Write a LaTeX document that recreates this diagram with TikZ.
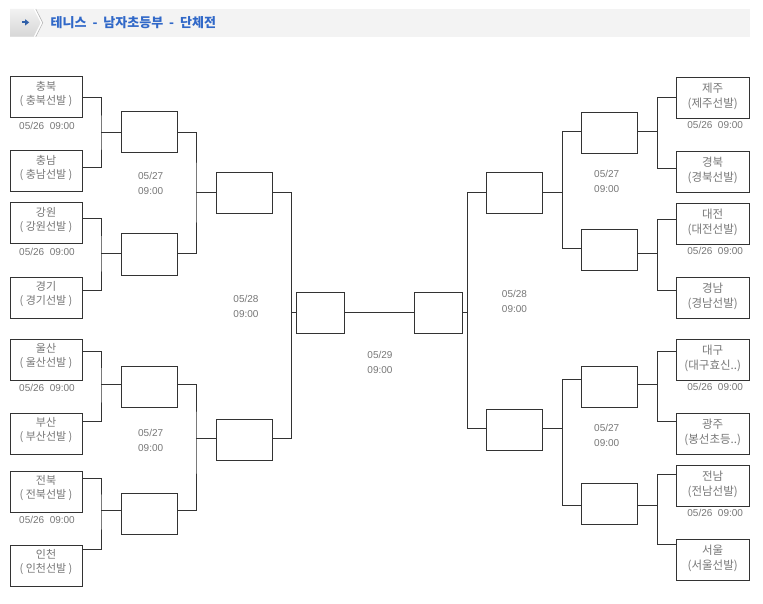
\documentclass[tikz,border=0pt]{standalone}
\usepackage{fontspec}
\usetikzlibrary{calc}
\newfontfamily\kr{Noto Sans CJK KR}
\newfontfamily\dt{Liberation Sans}
\definecolor{ln}{HTML}{333333}
\definecolor{txt}{HTML}{777777}
\definecolor{ttl}{HTML}{3068C8}
\definecolor{band}{HTML}{F3F3F3}
\definecolor{tabtop}{HTML}{F2F2F2}
\definecolor{tabbot}{HTML}{D6D6D6}
\definecolor{icon}{HTML}{2F5FA8}
\tikzset{
  box/.style={draw=ln, line width=1pt, fill=white, inner sep=0pt, minimum height=41pt},
  team/.style={box, minimum width=72pt},
  rteam/.style={box, minimum width=73pt},
  mbox/.style={box, minimum width=56pt},
  fbox/.style={box, minimum width=48pt},
  conn/.style={draw=ln, line width=1pt},
  tname/.style={font=\kr\fontsize{11}{13.5}\selectfont, text=txt, align=center, inner sep=0pt},
  rname/.style={font=\kr\fontsize{11.5}{15}\selectfont, text=txt, align=center, inner sep=0pt},
  dtext/.style={font=\dt\fontsize{10}{12}\selectfont, text=txt, inner sep=0pt},
  rtext/.style={font=\dt\fontsize{10}{15.5}\selectfont, text=txt, align=center, inner sep=0pt}
}
\begin{document}
\begin{tikzpicture}[x=1pt, y=-1pt]
\useasboundingbox (0,0) rectangle (763,604);
\fill[white] (0,0) rectangle (763,604);
% header
\fill[band] (10,9) rectangle (750,36.7);
\shade[top color=tabtop, bottom color=tabbot] (10,9) -- (34,9) -- (41,22.8) -- (34,36.7) -- (10,36.7) -- cycle;
\draw[white, line width=1.2pt] (34.5,9) -- (41.5,22.8) -- (34.5,36.7);
\draw[gray!60, line width=0.5pt] (35.8,9) -- (42.8,22.8) -- (35.8,36.7);
\fill[icon] (21.7,21.4) rectangle (25.5,23.4);
\fill[icon] (25.2,19.3) -- (29.2,22.4) -- (25.2,25.5) -- cycle;
\node[anchor=west, inner sep=0pt, text=ttl, font=\kr\bfseries\fontsize{13}{15}\selectfont] (title) at (50.5,22.7) {테니스\ \ -\ \ 남자초등부\ \ -\ \ 단체전};

% left teams
\node[team] (L1) at (46,97.5) {};
\node[team] (L2) at (46,171.5) {};
\node[team] (L3) at (46,223.5) {};
\node[team] (L4) at (46,297.5) {};
\node[team] (L5) at (46,359.5) {};
\node[team] (L6) at (46,433.5) {};
\node[team] (L7) at (46,491.5) {};
\node[team] (L8) at (46,565.5) {};
\node[tname] (L1t) at ($(L1.center)+(0,-3.5)$) {충북\\( 충북선발 )};
\node[tname] (L2t) at ($(L2.center)+(0,-3.5)$) {충남\\( 충남선발 )};
\node[tname] (L3t) at ($(L3.center)+(0,-3.5)$) {강원\\( 강원선발 )};
\node[tname] (L4t) at ($(L4.center)+(0,-3.5)$) {경기\\( 경기선발 )};
\node[tname] (L5t) at ($(L5.center)+(0,-3.5)$) {울산\\( 울산선발 )};
\node[tname] (L6t) at ($(L6.center)+(0,-3.5)$) {부산\\( 부산선발 )};
\node[tname] (L7t) at ($(L7.center)+(0,-3.5)$) {전북\\( 전북선발 )};
\node[tname] (L8t) at ($(L8.center)+(0,-3.5)$) {인천\\( 인천선발 )};
\node[dtext] (L1d) at ($(L1.south)+(1,7)$) {05/26~~09:00};
\node[dtext] (L3d) at ($(L3.south)+(1,7)$) {05/26~~09:00};
\node[dtext] (L5d) at ($(L5.south)+(1,7)$) {05/26~~09:00};
\node[dtext] (L7d) at ($(L7.south)+(1,7)$) {05/26~~09:00};

% right teams
\node[rteam] (T1) at (712.7,97.8) {};
\node[rteam] (T2) at (712.7,171.8) {};
\node[rteam] (T3) at (712.7,223.8) {};
\node[rteam] (T4) at (712.7,297.8) {};
\node[rteam] (T5) at (712.7,359.8) {};
\node[rteam] (T6) at (712.7,433.8) {};
\node[rteam] (T7) at (712.7,485.8) {};
\node[rteam] (T8) at (712.7,559.8) {};
\node[rname] (T1t) at ($(T1.center)+(0,-1)$) {제주\\(제주선발)};
\node[rname] (T2t) at ($(T2.center)+(0,-1)$) {경북\\(경북선발)};
\node[rname] (T3t) at ($(T3.center)+(0,-1)$) {대전\\(대전선발)};
\node[rname] (T4t) at ($(T4.center)+(0,-1)$) {경남\\(경남선발)};
\node[rname] (T5t) at ($(T5.center)+(0,-1)$) {대구\\(대구효신..)};
\node[rname] (T6t) at ($(T6.center)+(0,-1)$) {광주\\(봉선초등..)};
\node[rname] (T7t) at ($(T7.center)+(0,-1)$) {전남\\(전남선발)};
\node[rname] (T8t) at ($(T8.center)+(0,-1)$) {서울\\(서울선발)};
\node[dtext] (T1d) at ($(T1.south)+(2.5,6.5)$) {05/26~~09:00};
\node[dtext] (T3d) at ($(T3.south)+(2.5,6.5)$) {05/26~~09:00};
\node[dtext] (T5d) at ($(T5.south)+(2.5,6.5)$) {05/26~~09:00};
\node[dtext] (T7d) at ($(T7.south)+(2.5,6.5)$) {05/26~~09:00};

% round 2
\node[mbox] (Ra) at (149,132.5) {};
\node[mbox] (Rb) at (149,254.5) {};
\node[mbox] (Rc) at (149,386.5) {};
\node[mbox] (Rd) at (149,513.5) {};
\node[mbox] (Re) at (609.3,132.8) {};
\node[mbox] (Rf) at (609.3,249.8) {};
\node[mbox] (Rg) at (609.3,386.7) {};
\node[mbox] (Rh) at (609.3,503.8) {};
% round 3
\node[mbox] (Sa) at (244.4,192.8) {};
\node[mbox] (Sb) at (244.4,439.7) {};
\node[mbox] (Sc) at (514.5,192.8) {};
\node[mbox] (Sd) at (514.5,429.8) {};
% final
\node[fbox] (F1) at (320.3,312.8) {};
\node[fbox] (F2) at (438.3,312.8) {};

% joints
\coordinate (jA) at (101,132.7);
\coordinate (jB) at (101,253);
\coordinate (jC) at (101,384);
\coordinate (jD) at (101,510);
\coordinate (jE) at (196,192.3);
\coordinate (jF) at (196,438);
\coordinate (jG) at (291.5,312.3);
\coordinate (jH) at (467.3,312.3);
\coordinate (jI) at (562.3,192.3);
\coordinate (jJ) at (562.3,428.3);
\coordinate (jK) at (657.3,131.7);
\coordinate (jL) at (657.3,253.3);
\coordinate (jM) at (657.3,384);
\coordinate (jN) at (657.3,505);

% left connectors
\draw[conn] (L1.east |- 0,97.5) -| (jA) |- (L2.east |- 0,168);
\draw[conn] (jA) -- (Ra.west |- jA);
\draw[conn] (L3.east |- 0,219) -| (jB) |- (L4.east |- 0,290);
\draw[conn] (jB) -- (Rb.west |- jB);
\draw[conn] (L5.east |- 0,351) -| (jC) |- (L6.east |- 0,421.7);
\draw[conn] (jC) -- (Rc.west |- jC);
\draw[conn] (L7.east |- 0,478) -| (jD) |- (L8.east |- 0,549);
\draw[conn] (jD) -- (Rd.west |- jD);
\draw[conn] (Ra.east |- 0,132.7) -| (jE) |- (Rb.east |- 0,253);
\draw[conn] (jE) -- (Sa.west |- jE);
\draw[conn] (Rc.east |- 0,384) -| (jF) |- (Rd.east |- 0,510);
\draw[conn] (jF) -- (Sb.west |- jF);
\draw[conn] (Sa.east |- 0,192.3) -| (jG) |- (Sb.east |- 0,438);
\draw[conn] (jG) -- (F1.west |- jG);
\draw[conn] (F1.east |- 0,312.3) -- (F2.west |- 0,312.3);
% right connectors
\draw[conn] (F2.east |- jH) -- (jH);
\draw[conn] (Sc.west |- 0,192.3) -| (jH) |- (Sd.west |- 0,428.3);
\draw[conn] (Sc.east |- jI) -- (jI);
\draw[conn] (Re.west |- 0,131.7) -| (jI) |- (Rf.west |- 0,248.3);
\draw[conn] (Sd.east |- jJ) -- (jJ);
\draw[conn] (Rg.west |- 0,379.3) -| (jJ) |- (Rh.west |- 0,505);
\draw[conn] (Re.east |- jK) -- (jK);
\draw[conn] (T1.west |- 0,97.7) -| (jK) |- (T2.west |- 0,168.3);
\draw[conn] (Rf.east |- jL) -- (jL);
\draw[conn] (T3.west |- 0,219.3) -| (jL) |- (T4.west |- 0,290);
\draw[conn] (Rg.east |- jM) -- (jM);
\draw[conn] (T5.west |- 0,351.7) -| (jM) |- (T6.west |- 0,421.7);
\draw[conn] (Rh.east |- jN) -- (jN);
\draw[conn] (T7.west |- 0,474) -| (jN) |- (T8.west |- 0,544);

% round dates
\node[rtext] (d27a) at (150.7,183.5) {05/27\\09:00};
\node[rtext] (d27b) at (150.7,440.5) {05/27\\09:00};
\node[rtext] (d27c) at (606.7,181.2) {05/27\\09:00};
\node[rtext] (d27d) at (606.7,435.5) {05/27\\09:00};
\node[rtext] (d28a) at (246,306.5) {05/28\\09:00};
\node[rtext] (d28b) at (514.5,301.2) {05/28\\09:00};
\node[rtext] (d29) at (380,362.5) {05/29\\09:00};
\end{tikzpicture}
\end{document}
